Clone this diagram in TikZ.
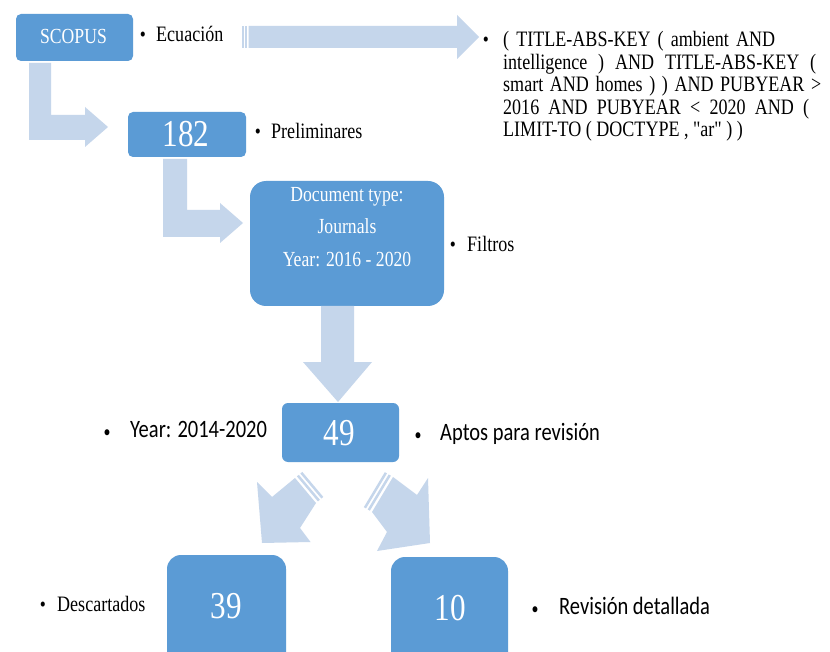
\documentclass[tikz,border=0pt]{standalone}
\usepackage{fontspec}
\setmainfont{Liberation Serif}[FakeStretch=0.82]
\newfontfamily\qfont{Liberation Serif}[FakeStretch=0.82, Ligatures=TeXOff]
\newfontfamily\calfont{Carlito}[FakeStretch=0.82]
\definecolor{boxblue}{RGB}{91,155,213}
\definecolor{arrblue}{RGB}{197,214,235}
\begin{document}
\begin{tikzpicture}[x=1pt,y=-1pt,
  box/.style={fill=boxblue, draw=none, inner sep=0pt},
  boxtext/.style={anchor=base, inner sep=0pt, text=white},
  blockarrow/.style={fill=arrblue, draw=none},
  lbl/.style={anchor=base west, inner sep=0pt, font=\fontsize{22}{24}\selectfont},
  clbl/.style={anchor=base west, inner sep=0pt, font=\calfont\fontsize{25}{28}\selectfont},
  bul/.style={anchor=base, inner sep=0pt, font=\fontsize{21}{23}\selectfont},
  cbul/.style={anchor=base, inner sep=0pt, font=\calfont\fontsize{17}{20}\selectfont},
  eqline/.style={anchor=base west, inner sep=0pt, font=\qfont\fontsize{22}{24}\selectfont},
  big/.style={font=\fontsize{38}{40}\selectfont},
  mid/.style={font=\fontsize{21.5}{23}\selectfont}
]
\clip (0,0) rectangle (830,652);
\fill[white] (0,0) rectangle (830,652);

% ---------- boxes ----------
\node[box, rounded corners=5pt, minimum width=117pt, minimum height=47pt] (scopus) at (74.5,37.5) {};
\node[boxtext, mid] (scopust) at (73.5,44) {SCOPUS};

\node[box, rounded corners=5pt, minimum width=118pt, minimum height=45pt] (b182) at (187,134.5) {};
\node[boxtext, big] (b182t) at (186,147) {182};

\node[box, rounded corners=16pt, minimum width=194pt, minimum height=125pt] (doc) at (347,243.5) {};
\node[boxtext, mid] (doc1) at (347,201.5) {Document type:};
\node[boxtext, mid] (doc2) at (347,234) {Journals};
\node[boxtext, mid] (doc3) at (347,266.5) {Year: 2016 - 2020};

\node[box, rounded corners=6pt, minimum width=117pt, minimum height=59pt] (b49) at (340.5,432.5) {};
\node[boxtext, big] (b49t) at (339,445) {49};

\node[box, rounded corners=14pt, minimum width=119pt, minimum height=125pt] (b39) at (226.5,617.5) {};
\node[boxtext, big] (b39t) at (226.5,618) {39};

\node[box, rounded corners=14pt, minimum width=117pt, minimum height=123pt] (b10) at (449.5,618.5) {};
\node[boxtext, big] (b10t) at (450,620) {10};

% ---------- block arrows ----------
% SCOPUS -> 182
\fill[blockarrow] (29,63) -- (51,63) -- (51,115) -- (85,115) -- (85,107) -- (108,127)
  -- (85,147) -- (85,140) -- (29,140) -- cycle;
% 182 -> document
\fill[blockarrow] (163,159) -- (187,159) -- (187,210) -- (220,210) -- (220,203) -- (243,223)
  -- (220,243) -- (220,237) -- (163,237) -- cycle;
% document -> 49
\fill[blockarrow] (321,306) -- (354,306) -- (354,362) -- (372,362) -- (338,402)
  -- (303,362) -- (321,362) -- cycle;
% Ecuacion -> query (striped)
\fill[blockarrow] (248.5,26) -- (457,26) -- (457,15) -- (479,37) -- (457,59) -- (457,48) -- (248.5,48) -- cycle;
\fill[blockarrow] (242,26) rectangle (243.5,48);
\fill[blockarrow] (245,26) rectangle (247,48);
% 49 -> 39 (striped)
\fill[blockarrow] (295,478) -- (316,503) -- (300,528) -- (310.5,542) -- (262,543)
  -- (257,482) -- (272,497) -- cycle;
\fill[blockarrow] (295,478) ++(1.915,-1.61) -- ++(21,25) -- ++(1.915,-1.61) -- ++(-21,-25) -- cycle;
\fill[blockarrow] (295,478) ++(5.36,-4.5) -- ++(21,25) -- ++(1.915,-1.61) -- ++(-21,-25) -- cycle;
% 49 -> 10 (striped)
\fill[blockarrow] (393,477) -- (417,495) -- (428,478) -- (430,543) -- (377,551)
  -- (387,532) -- (372,512) -- cycle;
\fill[blockarrow] (372,512) ++(-2.15,-1.275) -- ++(21,-35) -- ++(-2.15,-1.275) -- ++(-21,35) -- cycle;
\fill[blockarrow] (372,512) ++(-6.02,-3.57) -- ++(21,-35) -- ++(-2.15,-1.275) -- ++(-21,35) -- cycle;

% ---------- labels ----------
\node[bul] (bu1) at (143,42) {\textbullet};
\node[lbl] (ecu) at (156,42) {Ecuación};

\node[bul] (bu2) at (258,139) {\textbullet};
\node[lbl] (pre) at (271,139) {Preliminares};

\node[bul] (bu3) at (453,252) {\textbullet};
\node[lbl] (fil) at (467,252) {Filtros};

\node[bul] (bu4) at (43,611) {\textbullet};
\node[lbl] (des) at (57,611) {Descartados};

\node[cbul] (bu5) at (107,437) {\textbullet};
\node[clbl] (yr) at (130,437) {Year: 2014-2020};

\node[cbul] (bu6) at (418,440) {\textbullet};
\node[clbl] (apt) at (440,440) {Aptos para revisión};

\node[cbul] (bu7) at (535,614) {\textbullet};
\node[clbl] (rev) at (559,614) {Revisión detallada};

% query text
\node[bul] (bu8) at (486,47) {\textbullet};
\node[eqline] (q1) at (503,47) {\makebox[272pt][s]{( TITLE-ABS-KEY ( ambient AND}};
\node[eqline] (q2) at (503,69.5) {\makebox[313pt][s]{intelligence ) AND TITLE-ABS-KEY (}};
\node[eqline] (q3) at (503,92) {\makebox[318pt][s]{smart AND homes ) ) AND PUBYEAR >}};
\node[eqline] (q4) at (503,114.5) {\makebox[306pt][s]{2016 AND PUBYEAR < 2020 AND (}};
\node[eqline] (q5) at (503,137) {LIMIT-TO ( DOCTYPE , "ar" ) )};
\end{tikzpicture}
\end{document}
